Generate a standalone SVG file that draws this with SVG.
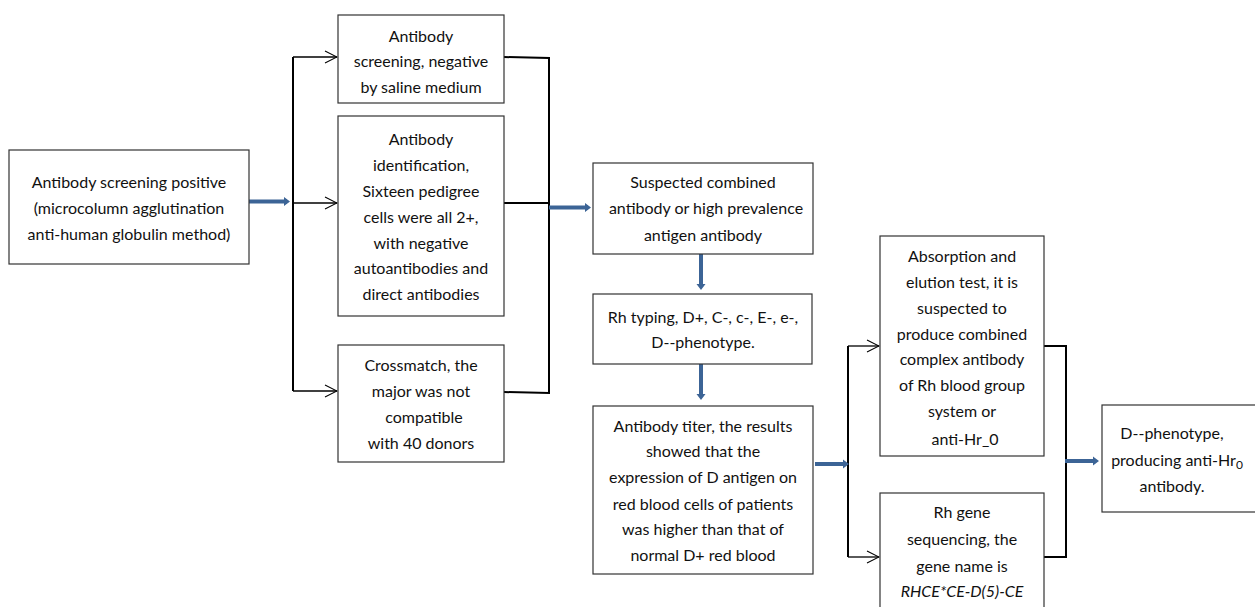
<svg xmlns="http://www.w3.org/2000/svg" width="1255" height="607" viewBox="0 0 1255 607">
<defs>
<style>
.box{fill:#fff;stroke:#333;stroke-width:1.2}
.t{font-family:Lato,"Liberation Sans",sans-serif;font-size:16px;fill:#111;text-anchor:middle}
.ln{fill:none;stroke:#000;stroke-width:1.3}
.lb{fill:none;stroke:#000;stroke-width:2}
.blue{fill:#3C6496}
</style>
<marker id="chev" viewBox="0 0 14 14" refX="13" refY="7" markerWidth="14" markerHeight="14" markerUnits="userSpaceOnUse" orient="auto">
<path d="M1,1 L13,7 L1,13" fill="none" stroke="#000" stroke-width="1.1"/>
</marker>
</defs>
<g id="connectors">
<path class="lb" d="M293,57 V391"/>
<path class="ln" d="M293,57 H337" marker-end="url(#chev)"/>
<path class="ln" d="M293,203 H337" marker-end="url(#chev)"/>
<path class="ln" d="M293,391 H337" marker-end="url(#chev)"/>
<path class="lb" d="M504,57 L549,58 V393 L504,392"/>
<path class="lb" d="M504,203 H549"/>
<path class="lb" d="M848,346 V557"/>
<path class="ln" d="M848,346 H879" marker-end="url(#chev)"/>
<path class="ln" d="M848,557 H879" marker-end="url(#chev)"/>
<path class="lb" d="M1044,346 H1066 V557 H1044"/>
<path class="blue" d="M248,199.5 H284 V197 L290,201.5 L284,206 V203.5 H248 Z"/>
<path class="blue" d="M549,205.5 H585 V203 L591,207.5 L585,212 V209.5 H549 Z"/>
<path class="blue" d="M699,254 V284 H696.5 L701,290 L705.5,284 H703 V254 Z"/>
<path class="blue" d="M699,364 V394 H696.5 L701,400 L705.5,394 H703 V364 Z"/>
<path class="blue" d="M815,462 H843 V459.5 L849,464 L843,468.5 V466 H815 Z"/>
<path class="blue" d="M1065,459 H1093 V456.5 L1099,461 L1093,465.5 V463 H1065 Z"/>
</g>
<g id="n1">
<rect class="box" x="9" y="150" width="240" height="114"/>
<text class="t" x="129" y="188">Antibody screening positive</text>
<text class="t" x="129" y="214">(microcolumn agglutination</text>
<text class="t" x="129" y="240">anti-human globulin method)</text>
</g>
<g id="n2">
<rect class="box" x="338" y="15" width="166" height="88"/>
<text class="t" x="421" y="42">Antibody</text>
<text class="t" x="421" y="67">screening, negative</text>
<text class="t" x="421" y="93">by saline medium</text>
</g>
<g id="n3">
<rect class="box" x="338" y="116" width="166" height="200"/>
<text class="t" x="421" y="145">Antibody</text>
<text class="t" x="421" y="171">identification,</text>
<text class="t" x="421" y="197">Sixteen pedigree</text>
<text class="t" x="421" y="223">cells were all 2+,</text>
<text class="t" x="421" y="249">with negative</text>
<text class="t" x="421" y="274">autoantibodies and</text>
<text class="t" x="421" y="300">direct antibodies</text>
</g>
<g id="n4">
<rect class="box" x="338" y="345" width="166" height="117"/>
<text class="t" x="421" y="371">Crossmatch, the</text>
<text class="t" x="421" y="397">major was not</text>
<text class="t" x="424" y="423">compatible</text>
<text class="t" x="421" y="449">with 40 donors</text>
</g>
<g id="n5">
<rect class="box" x="593" y="163" width="220" height="91"/>
<text class="t" x="703" y="188">Suspected combined</text>
<text class="t" x="706" y="214">antibody or high prevalence</text>
<text class="t" x="703" y="241">antigen antibody</text>
</g>
<g id="n6">
<rect class="box" x="593" y="294" width="219" height="70"/>
<text class="t" x="703" y="323">Rh typing, D+, C-, c-, E-, e-,</text>
<text class="t" x="703" y="348">D--phenotype.</text>
</g>
<g id="n7">
<rect class="box" x="593" y="406" width="220" height="168"/>
<text class="t" x="703" y="432">Antibody titer, the results</text>
<text class="t" x="703" y="457">showed that the</text>
<text class="t" x="703" y="483">expression of D antigen on</text>
<text class="t" x="703" y="510">red blood cells of patients</text>
<text class="t" x="703" y="535">was higher than that of</text>
<text class="t" x="703" y="561">normal D+ red blood</text>
</g>
<g id="n8">
<rect class="box" x="880" y="236" width="164" height="220"/>
<text class="t" x="962" y="262">Absorption and</text>
<text class="t" x="962" y="288">elution test, it is</text>
<text class="t" x="962" y="314">suspected to</text>
<text class="t" x="962" y="340">produce combined</text>
<text class="t" x="962" y="365">complex antibody</text>
<text class="t" x="962" y="391">of Rh blood group</text>
<text class="t" x="962" y="417">system or</text>
<text class="t" x="965" y="445">anti-Hr_0</text>
</g>
<g id="n9">
<rect class="box" x="880" y="493" width="164" height="130"/>
<text class="t" x="962" y="518">Rh gene</text>
<text class="t" x="962" y="545">sequencing, the</text>
<text class="t" x="962" y="572">gene name is</text>
<text class="t" x="962" y="597" font-style="italic">RHCE*CE-D(5)-CE</text>
</g>
<g id="n10">
<rect class="box" x="1102" y="405" width="170" height="107"/>
<text class="t" x="1172" y="439" font-size="17.5">D--phenotype,</text>
<text class="t" x="1177" y="466" font-size="17.5">producing anti-Hr<tspan font-size="12" dy="3">0</tspan></text>
<text class="t" x="1172" y="492" font-size="17.5">antibody.</text>
</g>
</svg>
